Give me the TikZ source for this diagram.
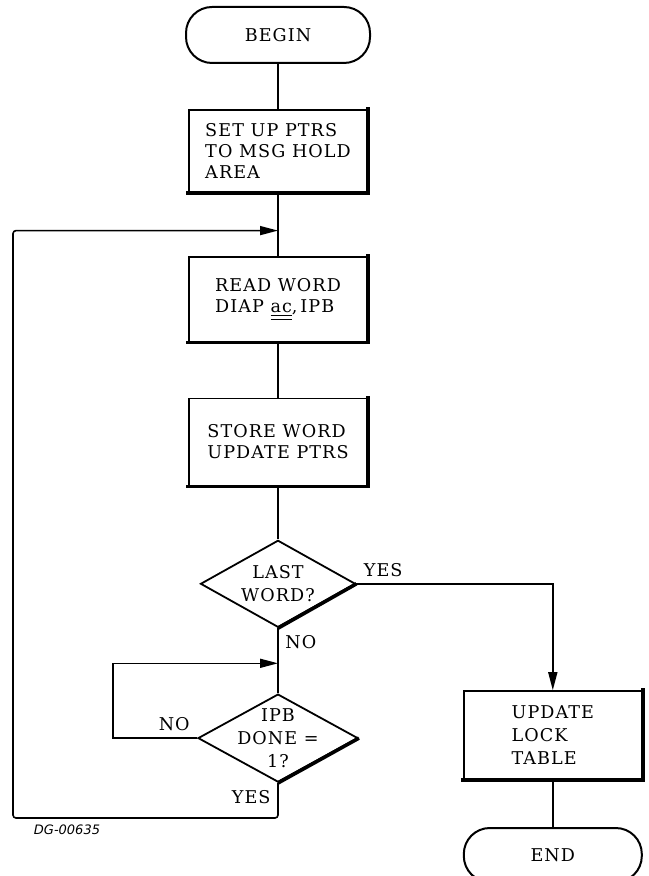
\documentclass[tikz,border=0pt]{standalone}
\usepackage{fontspec}
\usetikzlibrary{arrows.meta,calc,positioning,shapes.geometric}
\newfontfamily\chartfont{DejaVu Serif}[LetterSpace=6]
\newfontfamily\tagfont{DejaVu Sans}
\tikzset{
  flow/.style={line width=0.8pt},
  arrowflow/.style={flow,-{Triangle[length=9pt,width=4.5pt]}},
  termbox/.style={draw,line width=1pt,rounded corners=13pt,minimum width=92pt,minimum height=28pt,inner sep=0pt,font=\chartfont\fontsize{8.8}{10.5}\selectfont},
  procbox/.style={draw,line width=0.9pt,align=left,minimum width=89pt,inner sep=0pt,font=\chartfont\fontsize{8.8}{10.5}\selectfont},
  decision/.style={draw,diamond,line width=0.9pt,inner sep=0pt},
  decisiontext/.style={align=center,inner sep=0pt,font=\chartfont\fontsize{8.8}{11.5}\selectfont},
  branchlabel/.style={font=\chartfont\fontsize{8.8}{10}\selectfont},
  shadowline/.style={line width=1.8pt,line cap=rect,shift={(0.4pt,-0.4pt)}}
}
\begin{document}
\begin{tikzpicture}
  \useasboundingbox (0,0) rectangle (324pt,-438pt);
  % main column
  \node[termbox] (begin) at (139pt,-17.5pt) {BEGIN};
  \node[procbox,minimum height=41pt,below=22.5pt of begin] (setup) {SET UP PTRS\\TO MSG HOLD\\AREA};
  \node[procbox,minimum height=42.5pt,below=31.5pt of setup] (read) {READ WORD\\DIAP \underline{\underline{ac}},\,IPB};
  \node[procbox,minimum height=43.5pt,below=27.5pt of read] (store) {STORE WORD\\UPDATE PTRS};
  \node[decision,minimum width=77.5pt,minimum height=43.5pt,below=26.5pt of store] (last) {};
  \node[decisiontext] (lasttext) at (last) {LAST\\WORD?};
  \node[decision,minimum width=80pt,minimum height=44pt,below=32.5pt of last] (ipb) {};
  \node[decisiontext] (ipbtext) at (ipb) {IPB\\DONE =\\1?};
  % right column
  \node[procbox,minimum height=44pt,font=\chartfont\fontsize{8.8}{11.5}\selectfont,right=52pt of ipb,yshift=1.5pt] (update) {UPDATE\\LOCK\\TABLE};
  \node[termbox,minimum width=89pt,minimum height=27pt,below=23.5pt of update] (finish) {END};
  \node[font=\tagfont\itshape\fontsize{6.5}{8}\selectfont] (tag) at (33.5pt,-415pt) {DG-00635};
  % loop joins
  \coordinate (join1) at ($(setup.south)!0.6!(read.north)$);
  \coordinate (join2) at ($(last.south)!0.54!(ipb.north)$);
  \coordinate (outerleft) at (6.5pt,0);
  \coordinate (innerleft) at (56.5pt,0);
  % connectors
  \draw[flow] (begin) -- (setup);
  \draw[flow] (setup) -- (read);
  \draw[flow] (read) -- (store);
  \draw[flow] (store) -- (last);
  \draw[flow] (last.south) -- node[pos=0,below right,branchlabel] {NO} (ipb.north);
  \draw[arrowflow] (last.east) -- node[pos=0,above right,branchlabel] {YES} (last.east -| update.north) -- (update.north);
  \draw[arrowflow] (ipb.west) -- node[pos=0,above left,branchlabel] {NO} (innerleft |- ipb.west) |- (join2);
  \draw[arrowflow,rounded corners=1.5pt] (ipb.south) -- node[pos=0,below left,branchlabel] {YES} ++(0,-17.5pt) -| (outerleft |- join1) -- (join1);
  \draw[flow] (update) -- (finish);
  % heavy edges
  \foreach \n in {setup,read,store,update}
    \draw[shadowline] (\n.south west) -- (\n.south east) -- (\n.north east);
  \foreach \n in {last,ipb}
    \draw[shadowline,line cap=butt] (\n.east) -- (\n.south);
\end{tikzpicture}
\end{document}
